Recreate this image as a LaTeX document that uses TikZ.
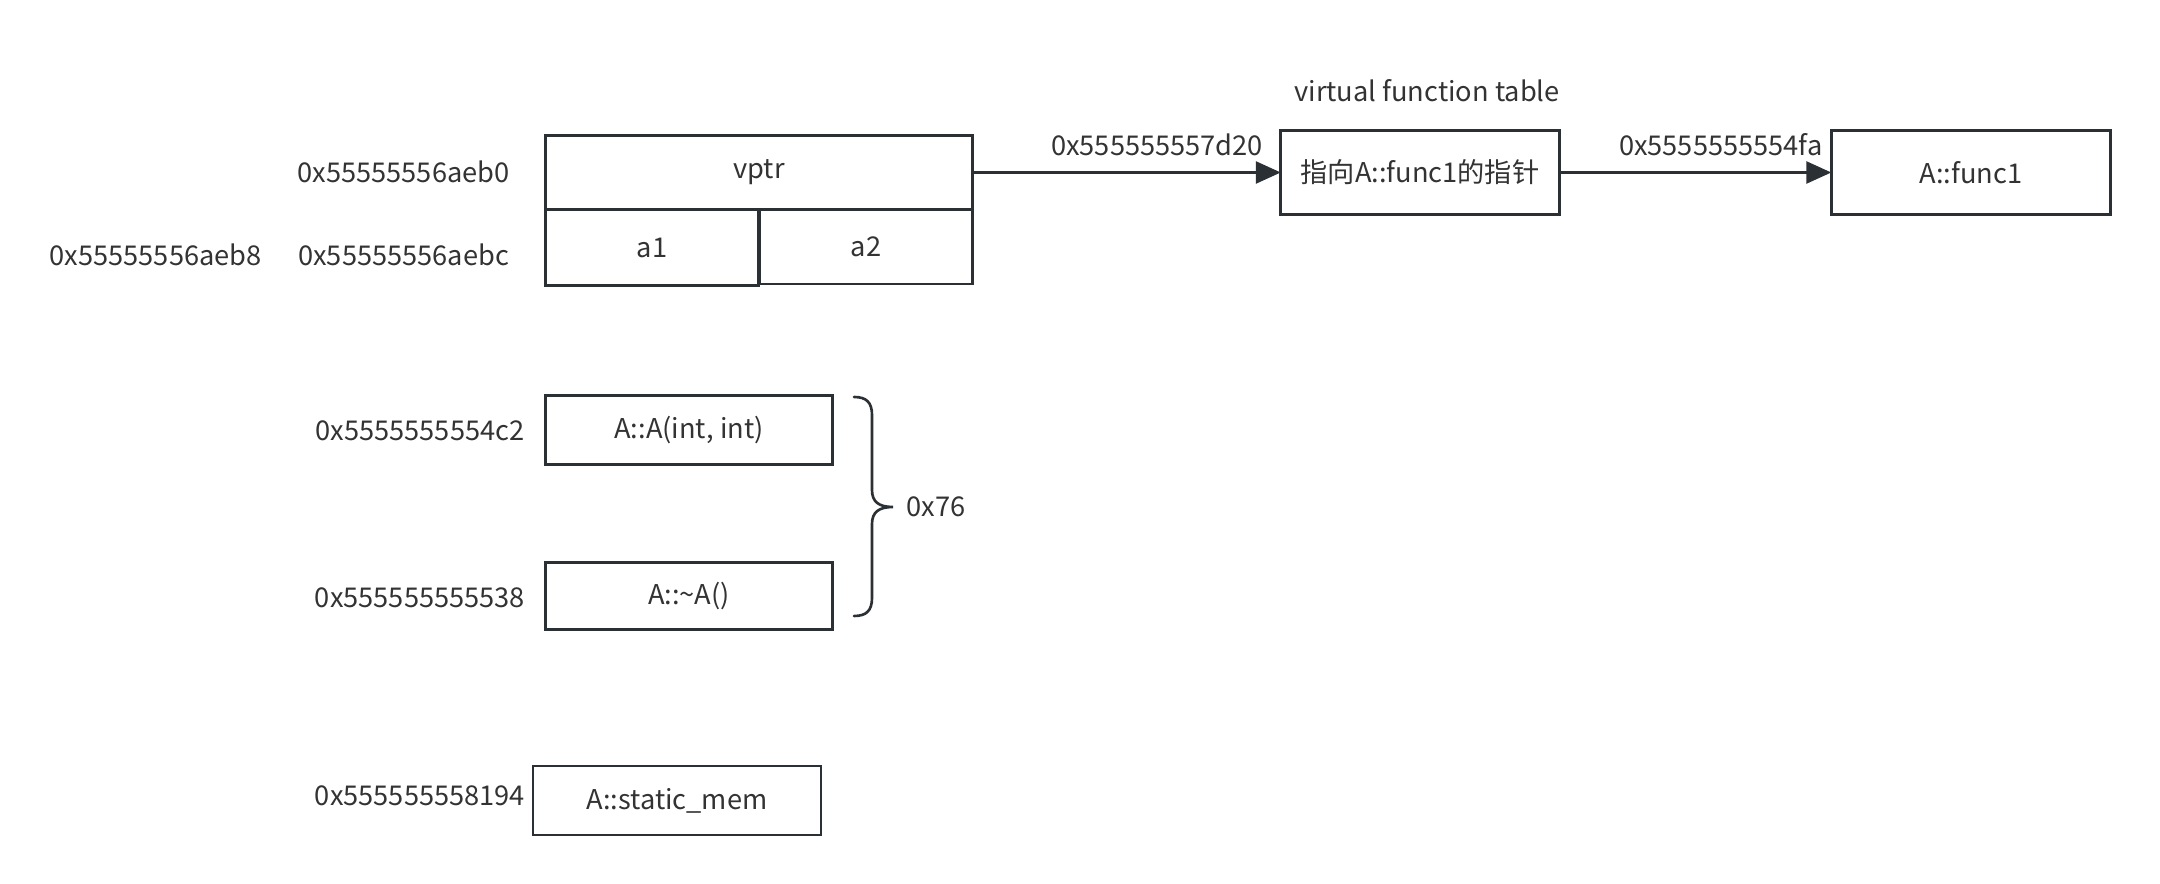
\documentclass[tikz,border=0pt]{standalone}
\usepackage{fontspec}
\setmainfont{Noto Sans CJK SC}
\usetikzlibrary{arrows.meta}
\definecolor{ink}{HTML}{2B3035}
\definecolor{txt}{HTML}{333333}
\tikzset{
  box/.style={draw=ink, line width=1.5pt, inner sep=0pt, outer sep=0pt, text=txt, font=\fontsize{15.5pt}{18pt}\selectfont},
  lbl/.style={inner sep=0pt, text=txt, font=\fontsize{15.5pt}{18pt}\selectfont},
  arr/.style={draw=ink, line width=1.5pt, -{Triangle[length=0.5cm,width=0.44cm]}},
  brace/.style={draw=ink, line width=1.5pt, line cap=round}
}
\begin{document}
\begin{tikzpicture}[x=0.02cm, y=-0.02cm]
\useasboundingbox (0,0) rectangle (2160,884);
% object layout
\node[box, minimum width=8.54cm, minimum height=1.48cm] (vptr) at (759,172.5) {vptr};
\node[box, minimum width=4.27cm, minimum height=1.51cm] (a1) at (652,247.5) {a1};
\node[box, minimum width=4.27cm, minimum height=1.48cm] (a2) at (866,247) {a2};
\node[lbl] (Laeb0) at (403.6,172) {0x55555556aeb0};
\node[lbl] (Laeb8) at (155.7,255) {0x55555556aeb8};
\node[lbl] (Laebc) at (403.6,255) {0x55555556aebc};
% vtable
\node[box, minimum width=5.57cm, minimum height=1.68cm] (vt) at (1420,172.5) {指向A::func1的指针};
\node[box, minimum width=5.59cm, minimum height=1.68cm] (f1) at (1971,172.5) {A::func1};
\node[lbl] (vtt) at (1427,91) {virtual function table};
\node[lbl] (L7d20) at (1157,145) {0x555555557d20};
\node[lbl] (L54fa) at (1720.7,145) {0x5555555554fa};
\draw[arr] (vptr.east) -- (vt.west);
\draw[arr] (vt.east) -- (f1.west);
% functions
\node[box, minimum width=5.73cm, minimum height=1.38cm] (ctor) at (689,430) {A::A(int, int)};
\node[box, minimum width=5.73cm, minimum height=1.35cm] (dtor) at (689,596) {A::\textasciitilde A()};
\node[lbl] (L4c2) at (420,431) {0x5555555554c2};
\node[lbl] (L538) at (420,598) {0x555555555538};
\draw[brace] (854,397) .. controls (866,397) and (872,402) .. (872,415) -- (872,490) .. controls (872,502) and (879,507) .. (893,507) .. controls (879,507) and (872,512) .. (872,524) -- (872,598) .. controls (872,611) and (866,616) .. (854,616);
\node[lbl, anchor=west] (L76) at (906,507) {0x76};
% static member
\node[box, minimum width=5.76cm, minimum height=1.38cm] (sm) at (677,800.5) {A::static\_mem};
\node[lbl] (L194) at (420,796) {0x555555558194};
\end{tikzpicture}
\end{document}
